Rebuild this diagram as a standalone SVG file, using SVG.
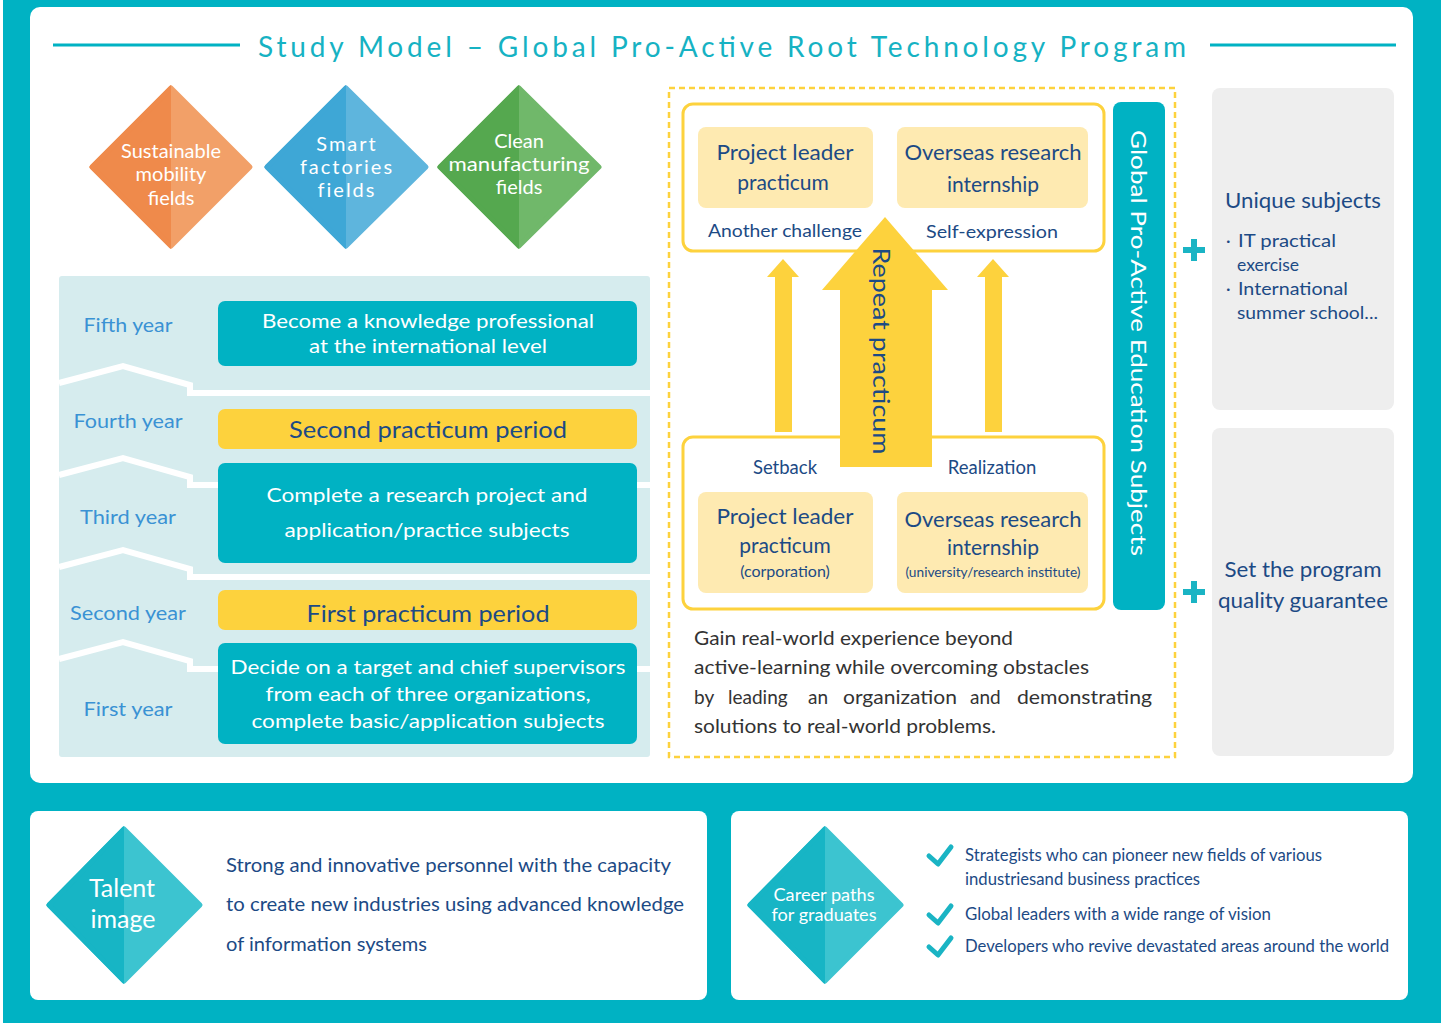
<svg xmlns="http://www.w3.org/2000/svg" width="1452" height="1023" viewBox="0 0 1452 1023">
<style>
text{font-family:Lato,"Open Sans","Liberation Sans",sans-serif}
.w{fill:#fff}
.nv{fill:#1c4a85}
.yr{fill:#3a92d4;font-size:19.5px;text-anchor:middle}
.c{text-anchor:middle}
.teal{fill:#00b2c3}
.yel{fill:#fdd23d}
.lyel{fill:#feeab1}
.box{fill:#fff;stroke:#fdd23d;stroke-width:3}
.sep{fill:none;stroke:#fff;stroke-width:6;stroke-linejoin:miter}
.grey{fill:#eeeeee}
.chk{fill:none;stroke:#1ab4c4;stroke-width:5;stroke-linecap:round;stroke-linejoin:round}
.plus{stroke:#1ab4c4;stroke-width:6}
</style>
<defs>
<clipPath id="lh1"><rect x="0" y="0" width="171" height="300"/></clipPath>
<clipPath id="lh2"><rect x="0" y="0" width="346" height="300"/></clipPath>
<clipPath id="lh3"><rect x="0" y="0" width="519" height="300"/></clipPath>
<clipPath id="lh4"><rect x="0" y="800" width="124" height="200"/></clipPath>
<clipPath id="lh5"><rect x="700" y="800" width="125" height="200"/></clipPath>
</defs>
<rect width="1452" height="1023" fill="#fff"/>
<rect x="3" y="0" width="1438" height="1023" class="teal"/>
<rect x="30" y="7" width="1383" height="776" rx="10" fill="#fff"/>

<g id="title">
<line x1="53" y1="45" x2="240" y2="45" stroke="#00b2c3" stroke-width="3"/>
<line x1="1210" y1="45" x2="1396" y2="45" stroke="#00b2c3" stroke-width="3"/>
<text x="722" y="57" class="c" fill="#16b2c3" font-size="28" textLength="928" lengthAdjust="spacing">Study Model – Global Pro-Active Root Technology Program</text>
</g>

<g id="d-mobility">
<polygon points="171,88 250,167 171,246 92,167" fill="#f2a068" stroke="#f2a068" stroke-width="5" stroke-linejoin="round"/>
<polygon points="171,88 250,167 171,246 92,167" fill="#ef8a4b" stroke="#ef8a4b" stroke-width="5" stroke-linejoin="round" clip-path="url(#lh1)"/>
<text class="w c" font-size="20"><tspan x="171" y="158">Sustainable</tspan><tspan x="171" y="181">mobility</tspan><tspan x="171" y="205">fields</tspan></text>
</g>
<g id="d-smart">
<polygon points="346,88 426,167 346,246 267,167" fill="#5eb5dd" stroke="#5eb5dd" stroke-width="5" stroke-linejoin="round"/>
<polygon points="346,88 426,167 346,246 267,167" fill="#3ea7d6" stroke="#3ea7d6" stroke-width="5" stroke-linejoin="round" clip-path="url(#lh2)"/>
<text class="w c" font-size="20" letter-spacing="2"><tspan x="347" y="151">Smart</tspan><tspan x="347" y="174">factories</tspan><tspan x="347" y="197">fields</tspan></text>
</g>
<g id="d-clean">
<polygon points="519,88 599,167 519,246 440,167" fill="#70b86a" stroke="#70b86a" stroke-width="5" stroke-linejoin="round"/>
<polygon points="519,88 599,167 519,246 440,167" fill="#55a84f" stroke="#55a84f" stroke-width="5" stroke-linejoin="round" clip-path="url(#lh3)"/>
<text class="w c" font-size="20"><tspan x="519" y="148">Clean</tspan><tspan x="519" y="171" textLength="141" lengthAdjust="spacingAndGlyphs">manufacturing</tspan><tspan x="519" y="194">fields</tspan></text>
</g>

<g id="years">
<rect x="59" y="276" width="591" height="481" rx="3" fill="#d6ecee"/>
<polyline class="sep" points="59,383 123,366 190,385 190,393 650,393"/>
<polyline class="sep" points="59,475 123,458 190,477 190,485 650,485"/>
<polyline class="sep" points="59,567 123,550 190,569 190,577 650,577"/>
<polyline class="sep" points="59,659 123,642 190,661 190,669 650,669"/>
<text class="yr" x="128" y="332" textLength="89" lengthAdjust="spacingAndGlyphs">Fifth year</text>
<text class="yr" x="128" y="428" textLength="109" lengthAdjust="spacingAndGlyphs">Fourth year</text>
<text class="yr" x="128" y="524" textLength="96" lengthAdjust="spacingAndGlyphs">Third year</text>
<text class="yr" x="128" y="620" textLength="116" lengthAdjust="spacingAndGlyphs">Second year</text>
<text class="yr" x="128" y="716" textLength="89" lengthAdjust="spacingAndGlyphs">First year</text>
</g>
<g id="y5">
<rect x="218" y="301" width="419" height="65" rx="7" class="teal"/>
<text class="w c" font-size="20"><tspan x="428" y="328" textLength="332" lengthAdjust="spacingAndGlyphs">Become a knowledge professional</tspan><tspan x="428" y="353" textLength="238" lengthAdjust="spacingAndGlyphs">at the international level</tspan></text>
</g>
<g id="p2">
<rect x="218" y="409" width="419" height="40" rx="7" class="yel"/>
<text class="nv c" x="428" y="438" font-size="24" textLength="278" lengthAdjust="spacingAndGlyphs">Second practicum period</text>
</g>
<g id="y3">
<rect x="218" y="463" width="419" height="100" rx="7" class="teal"/>
<text class="w c" font-size="20"><tspan x="427" y="502" textLength="321" lengthAdjust="spacingAndGlyphs">Complete a research project and</tspan><tspan x="427" y="537" textLength="285" lengthAdjust="spacingAndGlyphs">application/practice subjects</tspan></text>
</g>
<g id="p1">
<rect x="218" y="590" width="419" height="40" rx="7" class="yel"/>
<text class="nv c" x="428" y="622" font-size="24" textLength="243" lengthAdjust="spacingAndGlyphs">First practicum period</text>
</g>
<g id="y1">
<rect x="218" y="643" width="419" height="101" rx="7" class="teal"/>
<text class="w c" font-size="20"><tspan x="428" y="674" textLength="395" lengthAdjust="spacingAndGlyphs">Decide on a target and chief supervisors</tspan><tspan x="428" y="701" textLength="325" lengthAdjust="spacingAndGlyphs">from each of three organizations,</tspan><tspan x="428" y="728" textLength="353" lengthAdjust="spacingAndGlyphs">complete basic/application subjects</tspan></text>
</g>

<g id="practicum-area">
<rect x="669" y="88" width="506" height="669" fill="none" stroke="#fdd23d" stroke-width="2.5" stroke-dasharray="6 4"/>
</g>
<g id="top-box">
<rect x="683" y="104" width="421" height="147" rx="10" class="box"/>
<rect x="698" y="127" width="175" height="81" rx="8" class="lyel"/>
<rect x="897" y="127" width="191" height="81" rx="8" class="lyel"/>
<text class="nv c" font-size="21"><tspan x="785" y="160" textLength="137" lengthAdjust="spacingAndGlyphs">Project leader</tspan><tspan x="783" y="190">practicum</tspan></text>
<text class="nv c" font-size="21"><tspan x="993" y="160" textLength="177" lengthAdjust="spacingAndGlyphs">Overseas research</tspan><tspan x="993" y="192">internship</tspan></text>
<text class="nv c" x="785" y="237" font-size="18" textLength="154" lengthAdjust="spacingAndGlyphs">Another challenge</text>
<text class="nv c" x="992" y="238" font-size="18" textLength="132" lengthAdjust="spacingAndGlyphs">Self-expression</text>
</g>
<g id="bottom-box">
<rect x="683" y="437" width="421" height="172" rx="10" class="box"/>
<rect x="698" y="492" width="175" height="101" rx="8" class="lyel"/>
<rect x="897" y="492" width="191" height="101" rx="8" class="lyel"/>
<text class="nv c" x="785" y="474" font-size="18.5">Setback</text>
<text class="nv c" x="992" y="474" font-size="18.5">Realization</text>
<text class="nv c" font-size="21"><tspan x="785" y="524" textLength="137" lengthAdjust="spacingAndGlyphs">Project leader</tspan><tspan x="785" y="553">practicum</tspan><tspan x="785" y="577" font-size="16">(corporation)</tspan></text>
<text class="nv c" font-size="21"><tspan x="993" y="527" textLength="177" lengthAdjust="spacingAndGlyphs">Overseas research</tspan><tspan x="993" y="555">internship</tspan><tspan x="993" y="577" font-size="12.5" textLength="175" lengthAdjust="spacingAndGlyphs">(university/research institute)</tspan></text>
</g>
<g id="connectors">
<polygon class="yel" points="783,259 799,277 792,277 792,432 775,432 775,277 767,277"/>
<polygon class="yel" points="993,259 1009,277 1002,277 1002,432 985,432 985,277 977,277"/>
<polygon class="yel" points="885,217 948,290 932,290 932,467 840,467 840,290 822,290"/>
</g>
<g id="repeat">
<text class="nv c" x="882" y="351" font-size="24" transform="rotate(90 882 351)" dominant-baseline="central" textLength="207" lengthAdjust="spacingAndGlyphs">Repeat practicum</text>
</g>
<g id="gpa-bar">
<rect x="1113" y="102" width="52" height="508" rx="8" class="teal"/>
<text class="w c" x="1139" y="343" font-size="22" transform="rotate(90 1139 343)" dominant-baseline="central" textLength="426" lengthAdjust="spacingAndGlyphs">Global Pro-Active Education Subjects</text>
</g>
<g id="description">
<text fill="#333" font-size="19"><tspan x="694" y="645" textLength="319" lengthAdjust="spacingAndGlyphs">Gain real-world experience beyond</tspan><tspan x="694" y="674" textLength="395" lengthAdjust="spacingAndGlyphs">active-learning while overcoming obstacles</tspan><tspan x="694" y="733" textLength="302" lengthAdjust="spacingAndGlyphs">solutions to real-world problems.</tspan></text>
<text fill="#333" font-size="19" y="704"><tspan x="694">by</tspan><tspan x="728">leading</tspan><tspan x="808">an</tspan><tspan x="843" textLength="114" lengthAdjust="spacingAndGlyphs">organization</tspan><tspan x="970">and</tspan><tspan x="1017" textLength="135" lengthAdjust="spacingAndGlyphs">demonstrating</tspan></text>
</g>
<g id="unique">
<rect x="1212" y="88" width="182" height="322" rx="8" class="grey"/>
<path class="plus" d="M1183,250 H1205 M1194,239 V261"/>
<text class="nv c" x="1303" y="208" font-size="21" textLength="156" lengthAdjust="spacingAndGlyphs">Unique subjects</text>
<text class="nv" font-size="17.5"><tspan x="1226" y="247">·</tspan><tspan x="1238" y="247" textLength="98" lengthAdjust="spacingAndGlyphs">IT practical</tspan><tspan x="1237" y="271">exercise</tspan><tspan x="1226" y="295">·</tspan><tspan x="1238" y="295" textLength="110" lengthAdjust="spacingAndGlyphs">International</tspan><tspan x="1237" y="319" textLength="141" lengthAdjust="spacingAndGlyphs">summer school...</tspan></text>
</g>
<g id="quality">
<rect x="1212" y="428" width="182" height="328" rx="8" class="grey"/>
<path class="plus" d="M1183,592 H1205 M1194,581 V603"/>
<text class="nv c" font-size="21"><tspan x="1303" y="577" textLength="157" lengthAdjust="spacingAndGlyphs">Set the program</tspan><tspan x="1303" y="608" textLength="170" lengthAdjust="spacingAndGlyphs">quality guarantee</tspan></text>
</g>

<g id="talent">
<rect x="30" y="811" width="677" height="189" rx="8" fill="#fff"/>
<polygon points="124,829 200,905 124,981 49,905" fill="#3cc4d0" stroke="#3cc4d0" stroke-width="5" stroke-linejoin="round"/>
<polygon points="124,829 200,905 124,981 49,905" fill="#17b5c5" stroke="#17b5c5" stroke-width="5" stroke-linejoin="round" clip-path="url(#lh4)"/>
<text class="w c" font-size="25"><tspan x="122" y="897">Talent</tspan><tspan x="123" y="928">image</tspan></text>
<text class="nv" font-size="20"><tspan x="226" y="872" textLength="445" lengthAdjust="spacingAndGlyphs">Strong and innovative personnel with the capacity</tspan><tspan x="226" y="911" textLength="458" lengthAdjust="spacingAndGlyphs">to create new industries using advanced knowledge</tspan><tspan x="226" y="951" textLength="201" lengthAdjust="spacingAndGlyphs">of information systems</tspan></text>
</g>
<g id="career">
<rect x="731" y="811" width="677" height="189" rx="8" fill="#fff"/>
<polygon points="825,829 901,905 825,981 750,905" fill="#3cc4d0" stroke="#3cc4d0" stroke-width="5" stroke-linejoin="round"/>
<polygon points="825,829 901,905 825,981 750,905" fill="#17b5c5" stroke="#17b5c5" stroke-width="5" stroke-linejoin="round" clip-path="url(#lh5)"/>
<text class="w c" font-size="16.5"><tspan x="824" y="901" textLength="101" lengthAdjust="spacingAndGlyphs">Career paths</tspan><tspan x="824" y="921" textLength="105" lengthAdjust="spacingAndGlyphs">for graduates</tspan></text>
<path class="chk" d="M929,856 L938,864 L951,847"/>
<path class="chk" d="M929,915 L938,923 L951,906"/>
<path class="chk" d="M929,947 L938,955 L951,938"/>
<text class="nv" font-size="16.5"><tspan x="965" y="861" textLength="357" lengthAdjust="spacingAndGlyphs">Strategists who can pioneer new fields of various</tspan><tspan x="965" y="885" textLength="235" lengthAdjust="spacingAndGlyphs">industriesand business practices</tspan><tspan x="965" y="920" textLength="306" lengthAdjust="spacingAndGlyphs">Global leaders with a wide range of vision</tspan><tspan x="965" y="952" textLength="424" lengthAdjust="spacingAndGlyphs">Developers who revive devastated areas around the world</tspan></text>
</g>
</svg>
